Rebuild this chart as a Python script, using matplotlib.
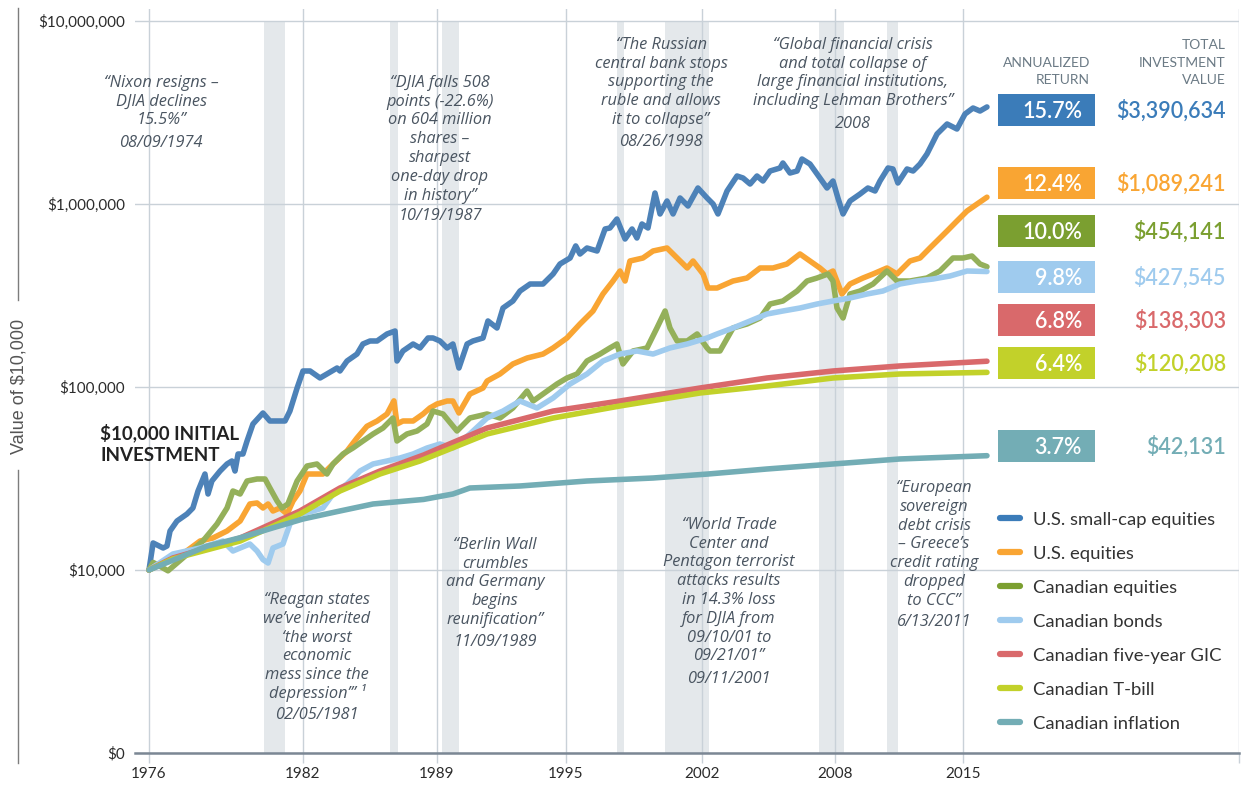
import numpy as np
import matplotlib
matplotlib.use('Agg')
import matplotlib.pyplot as plt
from matplotlib.lines import Line2D
from matplotlib.patches import Rectangle
from matplotlib.ticker import NullLocator

W, H = 1248, 788
plt.rcParams['font.family'] = ['Lato', 'DejaVu Sans']

# ---- data (growth of $10,000) ----
smallcap_years = [1976.00, 1976.16, 1976.55, 1976.70, 1976.82, 1977.09, 1977.48, 1977.71, 1977.91, 1978.18,
                  1978.30, 1978.45, 1978.77, 1979.04, 1979.23, 1979.35, 1979.47, 1979.66, 1979.82, 1980.05,
                  1980.44, 1980.71, 1980.99, 1981.30, 1981.49, 1981.77, 1982.00, 1982.37, 1982.89, 1983.25,
                  1983.78, 1983.93, 1984.30, 1984.82, 1985.13, 1985.50, 1985.87, 1986.39, 1986.81, 1986.91,
                  1987.22, 1987.75, 1988.11, 1988.53, 1988.79, 1989.14, 1989.47, 1989.74, 1990.02, 1990.40,
                  1990.67, 1991.14, 1991.37, 1991.79, 1992.07, 1992.53, 1992.86, 1993.33, 1993.93, 1994.40,
                  1994.72, 1995.21, 1995.50, 1995.72, 1996.08, 1996.60, 1997.01, 1997.26, 1997.62, 1998.04,
                  1998.40, 1998.65, 1998.91, 1999.22, 1999.58, 1999.84, 2000.20, 2000.51, 2000.87, 2001.28,
                  2001.79, 2002.23, 2002.50, 2002.72, 2003.13, 2003.58, 2003.85, 2004.17, 2004.48, 2004.75,
                  2005.07, 2005.52, 2005.65, 2005.97, 2006.29, 2006.51, 2006.87, 2007.32, 2007.64, 2007.91,
                  2008.16, 2008.44, 2008.82, 2009.37, 2009.80, 2010.19, 2010.46, 2010.90, 2011.17, 2011.44,
                  2011.94, 2012.27, 2012.65, 2013.03, 2013.58, 2014.13, 2014.67, 2015.11, 2015.55, 2015.93,
                  2016.31]
smallcap_vals = [10000, 14050, 13190, 13520, 16340, 18520, 20230, 21820, 27020, 33460,
                 26020, 30640, 34750, 37960, 39420, 34750, 43040, 43040, 50690, 62790,
                 72100, 65200, 65200, 65200, 73900, 98750, 122300, 122300, 112000, 117800,
                 127000, 122300, 138700, 151400, 171800, 178400, 178400, 194900, 202300, 138700,
                 157300, 171800, 163400, 185300, 185300, 178400, 163400, 171800, 127000, 171800,
                 178400, 185300, 229500, 210100, 270200, 295100, 334600, 365400, 365400, 414500,
                 470000, 506900, 590000, 533100, 574900, 553600, 730200, 739500, 827900, 643700,
                 730200, 651900, 777600, 739500, 1148500, 882000, 1038500, 882000, 1078500, 975200,
                 1223000, 1078500, 1000000, 882000, 1177800, 1422300, 1387000, 1286000, 1422300, 1335600,
                 1514600, 1573000, 1674900, 1477000, 1514600, 1761800, 1654200, 1387000, 1223000, 1335600,
                 1078500, 882000, 1038500, 1134000, 1223000, 1177800, 1335600, 1573000, 1553300, 1302400,
                 1553300, 1514600, 1654200, 1876000, 2413000, 2736000, 2569000, 3103000, 3346000, 3222000,
                 3390634]

us_years = [1976.00, 1976.50, 1977.30, 1977.99, 1978.49, 1979.04, 1979.55, 1979.93, 1980.21, 1980.44,
            1980.64, 1980.83, 1981.10, 1981.38, 1981.61, 1981.88, 1982.21, 1982.52, 1983.04, 1983.57,
            1984.30, 1984.82, 1985.34, 1985.87, 1986.39, 1986.75, 1986.91, 1987.22, 1987.75, 1988.27,
            1988.63, 1989.00, 1989.47, 1989.74, 1990.02, 1990.53, 1991.14, 1991.33, 1991.93, 1992.53,
            1993.19, 1993.93, 1994.40, 1995.05, 1995.72, 1996.39, 1996.90, 1997.42, 1997.78, 1998.04,
            1998.29, 1998.96, 1999.48, 2000.20, 2000.72, 2001.24, 2001.54, 2002.05, 2002.27, 2002.68,
            2003.40, 2004.03, 2004.62, 2005.20, 2005.83, 2006.42, 2006.87, 2007.32, 2007.64, 2007.91,
            2008.38, 2008.82, 2009.53, 2010.08, 2010.84, 2011.39, 2012.10, 2012.65, 2013.19, 2014.13,
            2014.67, 2015.22, 2015.77, 2016.31]
us_vals = [10000, 11000, 12200, 14400, 14960, 16340, 18520, 22950, 23240, 21820,
           22950, 21010, 21820, 20230, 23830, 27020, 33460, 33460, 33460, 37960,
           44700, 52640, 61000, 65200, 71200, 84000, 62790, 65200, 65200, 71200,
           76800, 80750, 83850, 83850, 72100, 91570, 98750, 107800, 117800, 133600,
           144000, 151400, 163400, 185300, 221000, 260200, 322200, 379500, 430400, 379500,
           488100, 506900, 553600, 574900, 506900, 447000, 488100, 414500, 347500, 347500,
           379500, 394100, 447000, 447000, 470000, 533100, 488100, 447000, 414500, 430400,
           322200, 365400, 394100, 414500, 447000, 414500, 488100, 506900, 574900, 712000,
           807500, 915600, 1000000, 1089241]

caneq_years = [1976.00, 1976.16, 1976.74, 1977.32, 1978.10, 1978.65, 1979.04, 1979.27, 1979.55, 1979.82,
               1980.21, 1980.52, 1980.71, 1980.99, 1981.18, 1981.41, 1981.77, 1982.21, 1982.73, 1983.25,
               1983.57, 1984.09, 1984.61, 1985.13, 1985.66, 1986.18, 1986.70, 1986.91, 1987.43, 1987.96,
               1988.48, 1988.79, 1989.28, 1989.93, 1990.53, 1991.33, 1991.93, 1992.53, 1993.19, 1993.47,
               1993.93, 1994.58, 1995.05, 1995.57, 1996.08, 1996.75, 1997.26, 1997.62, 1997.93, 1998.45,
               1999.17, 1999.68, 2000.10, 2000.35, 2000.72, 2001.24, 2001.75, 2002.23, 2002.36, 2002.81,
               2003.40, 2004.03, 2004.62, 2005.07, 2005.65, 2006.29, 2006.74, 2007.19, 2007.68, 2007.91,
               2008.11, 2008.44, 2008.82, 2009.37, 2010.08, 2010.84, 2011.39, 2012.10, 2013.03, 2013.74,
               2014.45, 2015.00, 2015.49, 2015.93, 2016.31]
caneq_vals = [10000, 11000, 9900, 11630, 14400, 17840, 21820, 27020, 26020, 30640,
              31430, 31430, 28060, 23830, 21820, 22950, 30640, 37000, 37960, 33460,
              37960, 43040, 46420, 50690, 55370, 59700, 67700, 50690, 55370, 57500,
              62790, 73900, 71200, 57500, 67700, 71200, 67700, 76800, 95080, 83850,
              91570, 103850, 112000, 117800, 138700, 151400, 163400, 171800, 133600, 157300,
              163400, 210100, 260200, 210100, 178400, 178400, 194900, 163400, 157300, 157300,
              210100, 221000, 238300, 284100, 295100, 334600, 379500, 394100, 414500, 379500,
              270200, 238300, 322200, 334600, 365400, 430400, 379500, 379500, 394100, 430400,
              506900, 506900, 519800, 470000, 454141]

bond_years = [1976.00, 1976.93, 1977.99, 1978.88, 1979.27, 1979.55, 1979.93, 1980.21, 1980.44, 1980.64,
              1980.83, 1981.22, 1981.49, 1981.88, 1982.52, 1983.04, 1983.57, 1984.30, 1984.98, 1985.66,
              1986.39, 1987.07, 1987.75, 1988.48, 1989.14, 1989.74, 1990.53, 1991.33, 1992.07, 1992.86,
              1993.65, 1994.40, 1995.21, 1996.08, 1996.90, 1997.78, 1998.65, 1999.48, 2000.35, 2001.24,
              2002.23, 2002.68, 2003.40, 2004.17, 2004.93, 2005.65, 2006.42, 2007.19, 2007.91, 2008.82,
              2009.75, 2010.62, 2011.55, 2012.48, 2013.36, 2014.29, 2015.22, 2016.31]
bond_vals = [10000, 12230, 13190, 14400, 12700, 13190, 13870, 12700, 11400, 10920,
             13190, 13870, 17840, 20230, 21010, 21820, 26020, 29510, 34750, 37960,
             39420, 40930, 43040, 46420, 48810, 46420, 55370, 67700, 73900, 83850,
             76800, 87080, 103850, 117800, 138700, 151400, 157300, 151400, 163400, 171800,
             185300, 194900, 210100, 229500, 250500, 260200, 270200, 284100, 295100, 306400,
             322200, 334600, 365400, 379500, 389200, 404200, 430400, 427545]

gic_years = [1976.00, 1976.93, 1978.00, 1979.55, 1981.88, 1983.93, 1986.02, 1988.30, 1991.33, 1994.40,
             1997.78, 2001.90, 2004.93, 2007.91, 2011.55, 2016.31]
gic_vals = [10000, 11630, 12850, 14960, 21010, 28060, 34750, 42500, 59700, 73900,
            83850, 98750, 112000, 122300, 130300, 138303]

tbill_years = [1976.00, 1976.93, 1978.00, 1979.55, 1981.88, 1983.93, 1986.02, 1988.11, 1991.33, 1994.40,
               1997.78, 2001.90, 2004.93, 2007.91, 2011.55, 2016.31]
tbill_vals = [10000, 11500, 12600, 14400, 20230, 27020, 33460, 39420, 55370, 67700,
              78750, 92730, 101300, 112000, 117800, 120208]

infl_years = [1976.00, 1978.26, 1979.55, 1980.83, 1982.00, 1983.93, 1985.66, 1988.30, 1989.74, 1990.53,
              1992.86, 1996.08, 1999.48, 2002.27, 2004.93, 2007.91, 2011.55, 2016.31]
infl_vals = [10000, 13500, 15000, 17000, 19000, 21010, 22950, 24300, 26020, 28060,
             28780, 30640, 31820, 33460, 35640, 37960, 40430, 42131]

names = ['U.S. small-cap equities', 'U.S. equities', 'Canadian equities', 'Canadian bonds',
         'Canadian five-year GIC', 'Canadian T-bill', 'Canadian inflation']
returns = ['15.7%', '12.4%', '10.0%', '9.8%', '6.8%', '6.4%', '3.7%']
totals = ['$3,390,634', '$1,089,241', '$454,141', '$427,545', '$138,303', '$120,208', '$42,131']

recessions = [(1980.48, 1981.30), (1986.55, 1986.96), (1989.23, 1990.02), (1997.62, 1997.99),
              (2000.10, 2002.32), (2007.28, 2008.49), (2010.84, 2011.44)]

tick_years = [1976, 1982, 1989, 1995, 2002, 2008, 2015]

notes = [
    (['“Nixon resigns –', 'DJIA declines', '15.5%”'], '08/09/1974'),
    (['“DJIA falls 508', 'points (-22.6%)', 'on 604 million', 'shares –', 'sharpest',
      'one-day drop', 'in history”'], '10/19/1987'),
    (['“The Russian', 'central bank stops', 'supporting the', 'ruble and allows',
      'it to collapse”'], '08/26/1998'),
    (['“Global financial crisis', 'and total collapse of', 'large financial institutions,',
      'including Lehman Brothers”'], '2008'),
    (['“Reagan states', 'we’ve inherited', '‘the worst', 'economic', 'mess since the',
      'depression’” ¹'], '02/05/1981'),
    (['“Berlin Wall', 'crumbles', 'and Germany', 'begins', 'reunification”'], '11/09/1989'),
    (['“World Trade', 'Center and', 'Pentagon terrorist', 'attacks results', 'in 14.3% loss',
      'for DJIA from', '09/10/01 to', '09/21/01”'], '09/11/2001'),
    (['“European', 'sovereign', 'debt crisis', '– Greece’s', 'credit rating', 'dropped',
      'to CCC”'], '6/13/2011'),
]
# (centre x, first line y, date y) in pixels
note_pos = [(161, 81, 141), (440, 81, 214), (661, 43, 140), (853, 43, 122),
            (317, 598, 713), (495, 543, 640), (729, 523, 677), (934, 486, 620)]

series = [(smallcap_years, smallcap_vals), (us_years, us_vals), (caneq_years, caneq_vals),
          (bond_years, bond_vals), (gic_years, gic_vals), (tbill_years, tbill_vals),
          (infl_years, infl_vals)]
line_colors = ['#4d82b8', '#f9a533', '#94b05a', '#9fcbee', '#d9696b', '#c2d12a', '#73adb5']
box_colors = ['#3b7cb9', '#f9a533', '#7b9f30', '#9fcbee', '#d9696b', '#c2d12a', '#73adb5']

grid_c = '#c9d1d8'
note_c = '#4a5561'
note_font = ['Open Sans', 'DejaVu Sans']


def fx(x):
    return x / W


def fy(y):
    return 1 - y / H


def put(x, y, s, size, **kw):
    # y is the visual middle of the line, place by baseline
    fig.text(fx(x), fy(y + 0.36 * size * 100 / 72), s, fontsize=size, va='baseline', **kw)


fig = plt.figure(figsize=(W / 100, H / 100), dpi=100)
ax = fig.add_axes([135 / W, 35 / H, 1104 / W, 744 / H])

# the original artwork spaces the labelled years unevenly; follow it with a function scale
scale_years = [1975.455, 1976, 1982, 1989, 1995, 2002, 2008, 2015, 2030.09]
scale_pos = [135, 149, 303, 437, 566, 702, 835, 963, 1239]


def fwd(x):
    return np.interp(x, scale_years, scale_pos)


def inv(p):
    return np.interp(p, scale_pos, scale_years)


ax.set_xscale('function', functions=(fwd, inv))
ax.set_yscale('log')
ax.set_xlim(1975.455, 2030.09)
ax.set_ylim(1000, 1000 * 10 ** (744 / 183))

for a, b in recessions:
    ax.fill_betweenx([1000, 1e7], a, b, color='#e4e8eb', lw=0, zorder=0.2)

ax.set_axisbelow(True)
ax.grid(True, color=grid_c, lw=1)
ax.axhline(1000, color='#7b8794', lw=1.8, zorder=3, clip_on=False)

ax.set_xticks(tick_years + [2030.09])
ax.set_xticklabels([str(t) for t in tick_years] + [''])
ax.set_yticks([1e3, 1e4, 1e5, 1e6, 1e7])
ax.set_yticklabels(['$0', '$10,000', '$100,000', '$1,000,000', '$10,000,000'])
ax.xaxis.set_minor_locator(NullLocator())
ax.yaxis.set_minor_locator(NullLocator())
ax.tick_params(axis='x', length=7.2, width=1, color=grid_c, pad=3, labelsize=11, labelcolor='#2b2b2b')
ax.tick_params(axis='y', length=0, pad=7, labelsize=11, labelcolor='#2b2b2b')
for sp in ax.spines.values():
    sp.set_visible(False)

for (yrs, vals), c, z in zip(series, line_colors, [4, 5, 6, 7, 8, 9, 10]):
    ax.plot(yrs, vals, color=c, lw=4.0, solid_joinstyle='round', solid_capstyle='round', zorder=z)

# event notes
for (lines, date), (cx, y0, dy) in zip(notes, note_pos):
    for i, s in enumerate(lines):
        put(cx, y0 + i * 18.8, s, 11.8, ha='center', style='italic', color=note_c, family=note_font)
    put(cx, dy, date, 11.8, ha='center', style='italic', color=note_c, family=note_font)

put(100, 432, '$10,000 INITIAL', 13.5, ha='left', weight='bold', color='#222222')
put(100, 454, 'INVESTMENT', 13.5, ha='left', weight='bold', color='#222222')

# y label with the rule running through it
fig.add_artist(Line2D([fx(18), fx(18)], [fy(8), fy(300)], color='#7d7d7d', lw=1))
fig.add_artist(Line2D([fx(18), fx(18)], [fy(470), fy(763)], color='#7d7d7d', lw=1))
fig.text(fx(19), fy(386), 'Value of $10,000', rotation=90, ha='center', va='center',
         fontsize=13, color='#555555', family=['Liberation Sans', 'DejaVu Sans'])

# return / value table
hdr = dict(ha='right', color='#6b7a85')
put(1090, 62, 'ANNUALIZED', 10, **hdr)
put(1090, 79, 'RETURN', 10, **hdr)
put(1226, 44, 'TOTAL', 10, **hdr)
put(1226, 62, 'INVESTMENT', 10, **hdr)
put(1226, 79, 'VALUE', 10, **hdr)

box_y = [110, 183, 231, 277, 320, 363, 446]
for r, t, c, cy in zip(returns, totals, box_colors, box_y):
    fig.add_artist(Rectangle((fx(998), fy(cy + 16)), 97 / W, 32 / H, transform=fig.transFigure,
                             color=c, lw=0))
    put(1082, cy, r, 15.5, ha='right', color='white', weight='semibold')
    put(1226, cy, t, 15.5, ha='right', color=c, weight='semibold')

# legend
for i, (n, c) in enumerate(zip(names, box_colors)):
    ly = 518 + 34 * i
    fig.add_artist(Line2D([fx(1000), fx(1020)], [fy(ly), fy(ly)], color=c, lw=4.5,
                          solid_capstyle='round'))
    put(1033, ly, n, 13.3, ha='left', color='#333333')

fig.savefig('out.png', dpi=100)
